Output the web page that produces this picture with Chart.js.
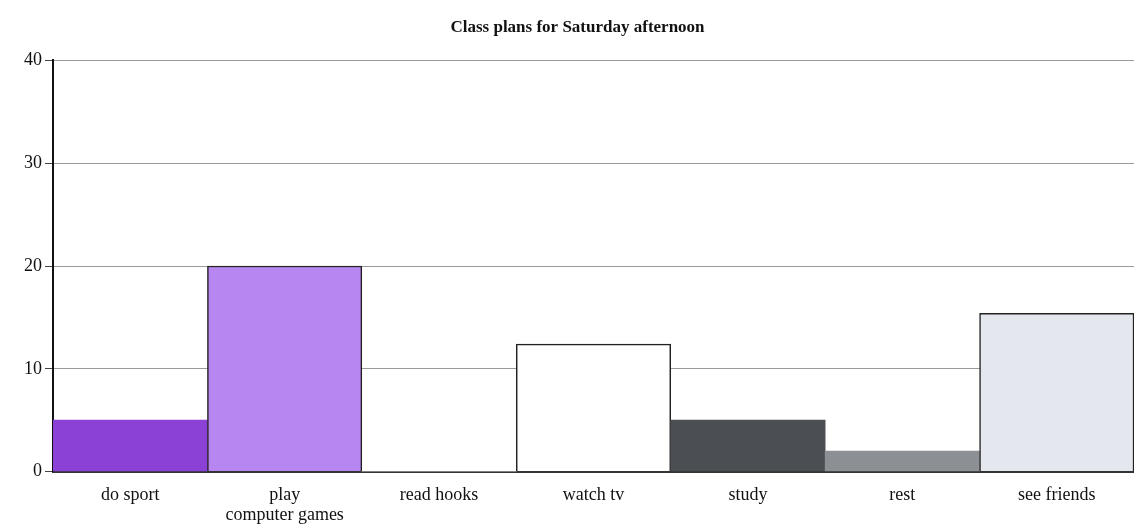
<!DOCTYPE html>
<html>
<head>
<meta charset="utf-8">
<script src="https://cdn.jsdelivr.net/npm/chart.js@4"></script>
<style>
  body { margin: 0; background: #fff; }
</style>
</head>
<body>
<canvas id="myChart" width="1134" height="531"></canvas>
<script>
const categories = ["do sport", ["play", "computer games"], "read hooks", "watch tv", "study", "rest", "see friends"]
const pupils = [5, 20, 0, 12.4, 5, 2, 15.4]
const yTicks = [0, 10, 20, 30, 40]

// colours per bar, as in the scan
const fills = ["#8b40d6", "#b886f0", "#ffffff", "#ffffff", "#4b4e52", "#8c8f93", "#e5e7ef"]
const borders = ["#8b40d6", "#222222", "#ffffff", "#222222", "#4b4e52", "#8c8f93", "#222222"]
const borderWidths = [0, 1.5, 0, 1.5, 0, 0, 1.5]

const serif = "'Liberation Serif', 'DejaVu Serif', serif"

const ctx = document.getElementById('myChart')
const myChart = new Chart(ctx, {
    type: 'bar',
    data: {
        labels: categories,
        datasets: [{
            data: pupils,
            backgroundColor: fills,
            borderColor: borders,
            borderWidth: borderWidths,
            borderSkipped: 'bottom',
            barPercentage: 1,
            categoryPercentage: 1
        }]
    },
    options: {
        responsive: false,
        animation: false,
        layout: { padding: { left: 21, right: 0, top: 4, bottom: 0 } },
        plugins: {
            legend: { display: false },
            tooltip: { enabled: false },
            title: {
                display: true,
                text: 'Class plans for Saturday afternoon',
                color: '#111',
                font: { family: serif, size: 17, weight: 'bold' },
                padding: { top: 13, bottom: 23 }
            }
        },
        scales: {
            x: {
                grid: { display: false },
                border: { color: '#333', width: 2 },
                ticks: {
                    color: '#111',
                    font: { family: serif, size: 18, lineHeight: 1.15 },
                    padding: 5,
                    maxRotation: 0,
                    autoSkip: false
                }
            },
            y: {
                min: 0,
                max: 40,
                afterBuildTicks: axis => { axis.ticks = yTicks.map(v => ({ value: v })) },
                grid: { color: '#9a9a9a', lineWidth: 1, tickLength: 8, tickColor: '#444' },
                border: { color: '#111', width: 2 },
                ticks: {
                    color: '#111',
                    font: { family: serif, size: 18 },
                    padding: 3
                }
            }
        }
    }
})
</script>
</body>
</html>
